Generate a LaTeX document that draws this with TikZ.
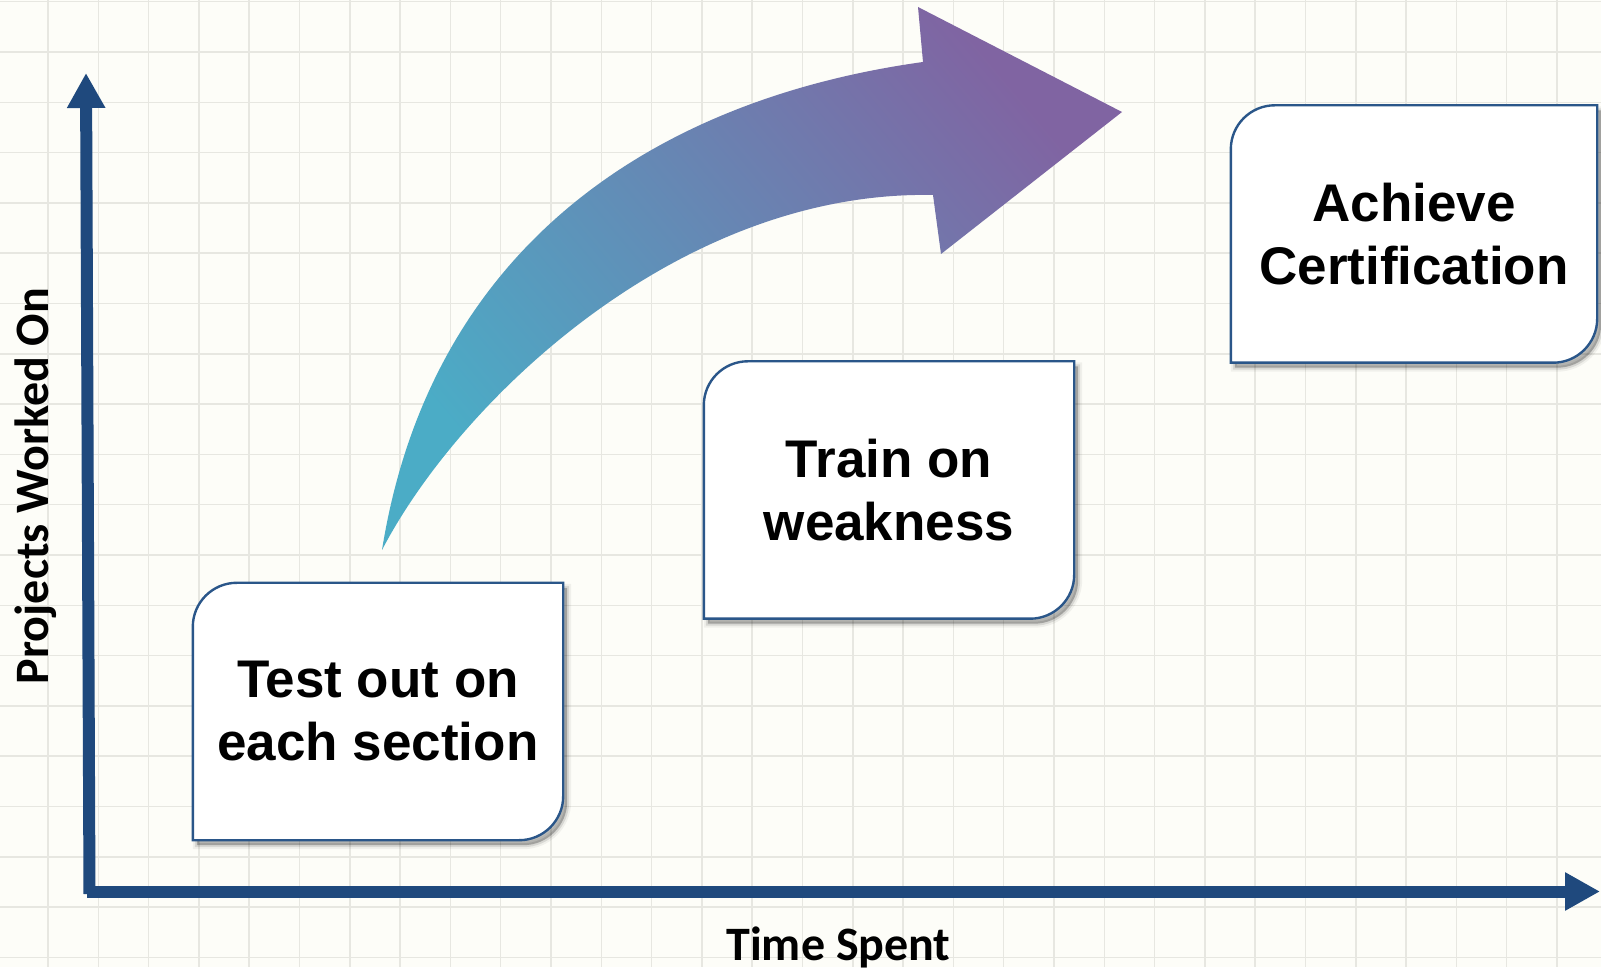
\documentclass[tikz,border=0pt]{standalone}
\usepackage{fontspec}
\setmainfont{Liberation Sans}
\newfontfamily\calib{Carlito}
\usetikzlibrary{arrows.meta}
\definecolor{paper}{HTML}{FDFDF8}
\definecolor{gridc}{HTML}{E7E7E1}
\definecolor{axisblue}{HTML}{1F497D}
\definecolor{cardedge}{HTML}{2A5689}
\definecolor{aqua}{HTML}{4BACC6}
\definecolor{violet}{HTML}{8064A2}
\pgfdeclarelayer{back}
\pgfsetlayers{back,main}
\begin{document}
\begin{tikzpicture}[x=1pt,y=1pt,
  gridline/.style={draw=gridc, line width=1.5pt},
  axis/.style={draw=axisblue, line width=12pt, -{Triangle[length=35pt,width=36pt]}},
  card/.style={minimum width=370pt, minimum height=257pt, inner sep=0pt, align=center,
    font=\bfseries\fontsize{53}{63}\selectfont},
  cardshape/.style={insert path={(#1.south west) -- ([yshift=-44pt]#1.north west)
    arc[start angle=180, end angle=90, radius=44pt] -- (#1.north east)
    -- ([yshift=44pt]#1.south east) arc[start angle=0, end angle=-90, radius=44pt] -- cycle}},
  cardline/.style={draw=cardedge, line width=2.4pt, fill=white},
  shadowA/.style={fill=black, fill opacity=0.25, transform canvas={shift={(4pt,-5pt)}}},
  shadowB/.style={draw=black, draw opacity=0.10, line width=4pt, transform canvas={shift={(4pt,-5pt)}}},
  shadowC/.style={draw=black, draw opacity=0.05, line width=8pt, transform canvas={shift={(4pt,-5pt)}}},
  axislabel/.style={font=\calib\bfseries\fontsize{48}{57}\selectfont, inner sep=0pt}
]
\useasboundingbox (0,0) rectangle (1601,967);
\begin{pgfonlayer}{back}
\fill[paper] (0,0) rectangle (1601,967);
\foreach \k in {0,...,31} \draw[gridline] ({48+50.3*\k},0) -- ({48+50.3*\k},967);
\foreach \k in {0,...,19} \draw[gridline] (0,{965.3-50.3*\k}) -- (1601,{965.3-50.3*\k});
\end{pgfonlayer}

% axes
\coordinate (ybot) at (89.5,73);
\coordinate (ytop) at (86,894);
\coordinate (xleft) at (87,75.5);
\coordinate (xright) at (1600,75.5);
\draw[axis] (ybot) -- (ytop);
\draw[axis] (xleft) -- (xright);

% cards
\node[card] (c1) at (378,255.5) {Test out on\\each section};
\node[card] (c2) at (889,477) {Train on\\weakness};
\node[card, minimum width=366pt] (c3) at (1414,733) {Achieve\\Certification};
\begin{pgfonlayer}{back}
\foreach \c in {c1,c2,c3}{
  \path[shadowC, cardshape=\c];
  \path[shadowB, cardshape=\c];
  \path[shadowA, cardshape=\c];
  \path[cardline, cardshape=\c];
}
\end{pgfonlayer}

% curved arrow
\coordinate (tail) at (382,417);
\coordinate (n1) at (923,905);
\coordinate (barbtop) at (918,960);
\coordinate (tip) at (1122,855);
\coordinate (barbbot) at (941,713);
\coordinate (n2) at (933,772);
\shade[bottom color=aqua, top color=violet, shading angle=-50]
  (tail) .. controls (430,717) and (650,867) .. (n1) -- (barbtop) -- (tip)
  -- (barbbot) -- (n2) .. controls (680,777) and (460,567) .. (tail) -- cycle;

% axis labels
\node[axislabel, anchor=base] (xl) at (838.5,7) {Time Spent};
\node[axislabel, anchor=base, rotate=90] (yl) at (48,481) {Projects Worked On};
\end{tikzpicture}
\end{document}
